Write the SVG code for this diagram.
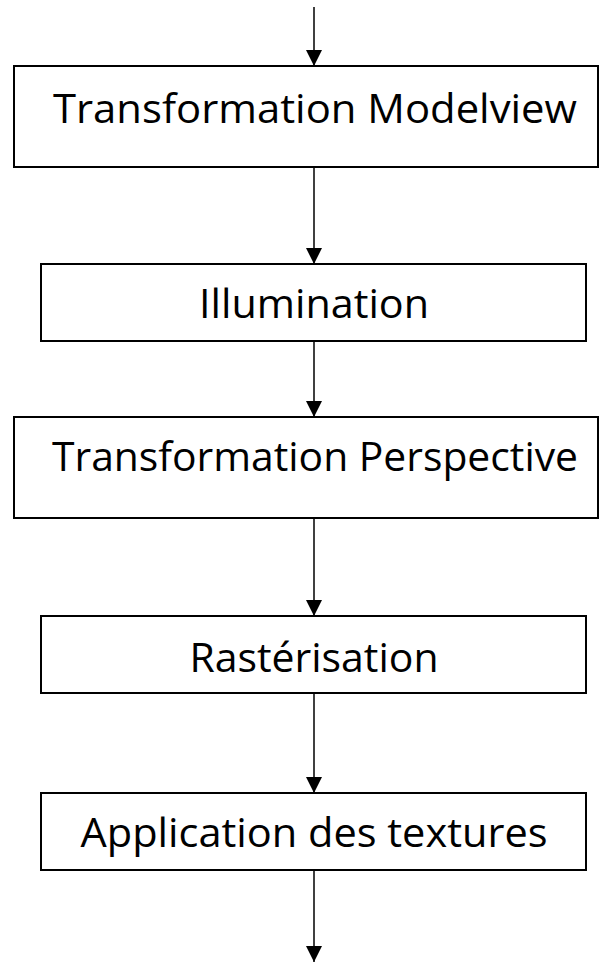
<svg xmlns="http://www.w3.org/2000/svg" width="600" height="965" viewBox="0 0 600 965">
  <style>
    .box { fill: #ffffff; stroke: #000000; stroke-width: 2; }
    .label { font-family: "Open Sans", "Noto Sans", "Liberation Sans", sans-serif; font-size: 40px; fill: #000000; text-anchor: middle; }
    .flow { stroke: #000000; stroke-width: 1.5; fill: none; marker-end: url(#arrow); }
  </style>
  <defs>
    <marker id="arrow" markerUnits="userSpaceOnUse" markerWidth="16" markerHeight="16" viewBox="0 0 16 16" refX="16" refY="8" orient="auto">
      <path d="M0,0 L16,8 L0,16 Z" fill="#000000"/>
    </marker>
  </defs>
  <rect width="600" height="965" fill="#ffffff"/>

  <!-- pipeline arrows -->
  <g id="connectors">
    <line class="flow" x1="314" y1="7" x2="314" y2="66"/>
    <line class="flow" x1="314" y1="167" x2="314" y2="264"/>
    <line class="flow" x1="314" y1="341" x2="314" y2="417"/>
    <line class="flow" x1="314" y1="518" x2="314" y2="616"/>
    <line class="flow" x1="314" y1="693" x2="314" y2="793"/>
    <line class="flow" x1="314" y1="870" x2="314" y2="962"/>
  </g>

  <g id="modelview">
    <rect class="box" x="14" y="66" width="584" height="101"/>
    <text class="label" x="315" y="123" textLength="524" lengthAdjust="spacingAndGlyphs">Transformation Modelview</text>
  </g>

  <g id="illumination">
    <rect class="box" x="41" y="264" width="545" height="77"/>
    <text class="label" x="314" y="318" textLength="230" lengthAdjust="spacingAndGlyphs">Illumination</text>
  </g>

  <g id="perspective">
    <rect class="box" x="14" y="417" width="584" height="101"/>
    <text class="label" x="315" y="471" textLength="526" lengthAdjust="spacingAndGlyphs">Transformation Perspective</text>
  </g>

  <g id="rasterisation">
    <rect class="box" x="41" y="616" width="545" height="77"/>
    <text class="label" x="314" y="672" textLength="249" lengthAdjust="spacingAndGlyphs">Rastérisation</text>
  </g>

  <g id="texturing">
    <rect class="box" x="41" y="793" width="545" height="77"/>
    <text class="label" x="314" y="847" textLength="467" lengthAdjust="spacingAndGlyphs">Application des textures</text>
  </g>
</svg>
